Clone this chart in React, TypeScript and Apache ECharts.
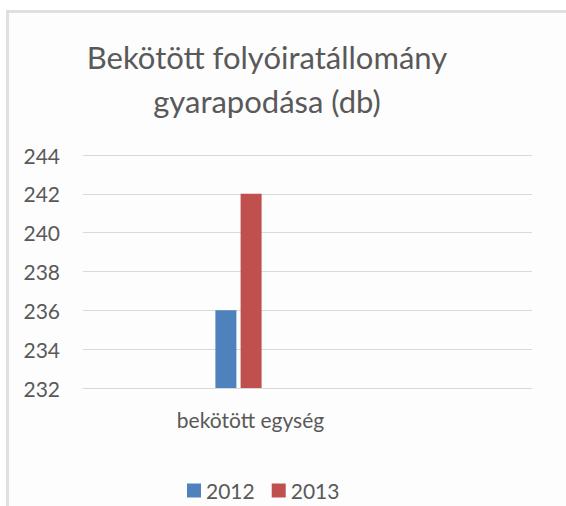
import React, { useEffect, useRef } from "react";
import * as echarts from "echarts";

const categories = ["bekötött egység"];
const seriesNames = ["2012", "2013"];
const values2012 = [236];
const values2013 = [242];
const yMin = 232;
const yMax = 244;
const yStep = 2;
const titleText = "Bekötött folyóiratállomány\ngyarapodása (db)";
const colors = ["#4F81BD", "#C0504D"];
const FONT = "Lato, 'Open Sans', sans-serif";

export default function App() {
  const ref = useRef<HTMLDivElement>(null);
  useEffect(() => {
    if (!ref.current) return;
    const chart = echarts.init(ref.current, undefined, { renderer: "svg" });
    chart.setOption({
      animation: false,
      backgroundColor: "#ffffff",
      graphic: [
        {
          type: "rect",
          z: -10,
          silent: true,
          shape: { x: 7.5, y: 11.5, width: 620, height: 620 },
          style: { fill: "#FDFDFD", stroke: "#E0E0E0", lineWidth: 3 },
        },
        {
          type: "text",
          x: 267,
          y: 35,
          silent: true,
          style: {
            text: titleText,
            align: "center",
            verticalAlign: "top",
            fontFamily: FONT,
            fontSize: 31,
            lineHeight: 44,
            fill: "#595959",
          },
        },
      ],
      legend: {
        data: seriesNames,
        left: 182,
        top: 475,
        itemWidth: 14,
        itemHeight: 14,
        itemGap: 17,
        icon: "rect",
        textStyle: { fontFamily: FONT, fontSize: 21, color: "#595959" },
      },
      grid: [
        { left: 83, right: 34, top: 155, bottom: 118 },
        { left: 83, width: 311, top: 155, bottom: 118 },
      ],
      xAxis: [
        {
          gridIndex: 0,
          type: "category",
          data: categories,
          axisLine: { show: true, lineStyle: { color: "#D9D9D9", width: 1 } },
          axisTick: { show: false },
          axisLabel: { show: false },
        },
        {
          gridIndex: 1,
          type: "category",
          data: categories,
          axisLine: { show: false },
          axisTick: { show: false },
          axisLabel: {
            margin: 21,
            padding: [0, 0, 0, 24],
            fontFamily: FONT,
            fontSize: 21,
            color: "#595959",
          },
        },
      ],
      yAxis: [
        {
          gridIndex: 0,
          type: "value",
          min: yMin,
          max: yMax,
          interval: yStep,
          axisLine: { show: false },
          axisTick: { show: false },
          splitLine: { lineStyle: { color: "#D9D9D9", width: 1 } },
          axisLabel: {
            margin: 23,
            fontFamily: FONT,
            fontSize: 21,
            color: "#595959",
          },
        },
        {
          gridIndex: 1,
          type: "value",
          min: yMin,
          max: yMax,
          interval: yStep,
          show: false,
          splitLine: { show: false },
        },
      ],
      series: [
        {
          name: seriesNames[0],
          type: "bar",
          xAxisIndex: 1,
          yAxisIndex: 1,
          data: values2012,
          barWidth: 21,
          barGap: "20%",
          itemStyle: { color: colors[0] },
        },
        {
          name: seriesNames[1],
          type: "bar",
          xAxisIndex: 1,
          yAxisIndex: 1,
          data: values2013,
          barWidth: 21,
          barGap: "20%",
          itemStyle: { color: colors[1] },
        },
      ],
    });
    return () => chart.dispose();
  }, []);
  return (
    <div
      ref={ref}
      style={{ position: "fixed", left: 0, top: 0, width: 566, height: 506 }}
    />
  );
}
